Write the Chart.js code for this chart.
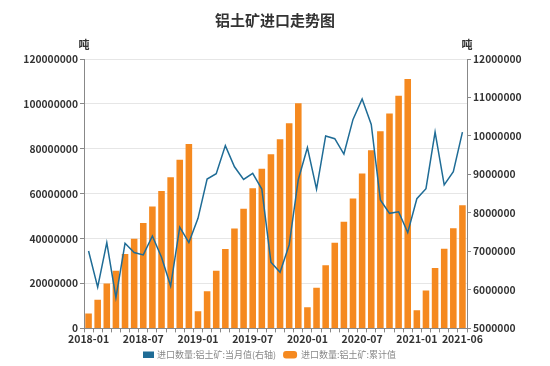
<!DOCTYPE html>
<html>
<head>
<meta charset="utf-8">
<script src="https://cdn.jsdelivr.net/npm/chart.js@4.4.1/dist/chart.umd.min.js"></script>
<style>
html,body{margin:0;padding:0;background:#fff;}
#wrap{width:550px;height:366px;position:relative;}
</style>
</head>
<body>
<div id="wrap"><canvas id="c" width="550" height="366"></canvas></div>
<script>
const categories = ["2018-01","2018-02","2018-03","2018-04","2018-05","2018-06","2018-07","2018-08","2018-09","2018-10","2018-11","2018-12",
"2019-01","2019-02","2019-03","2019-04","2019-05","2019-06","2019-07","2019-08","2019-09","2019-10","2019-11","2019-12",
"2020-01","2020-02","2020-03","2020-04","2020-05","2020-06","2020-07","2020-08","2020-09","2020-10","2020-11","2020-12",
"2021-01","2021-02","2021-03","2021-04","2021-05","2021-06"];

const monthly = [7010000,6070000,7230000,5800000,7210000,6970000,6910000,7400000,6850000,6100000,7630000,7230000,
7860000,8880000,9020000,9750000,9200000,8870000,9030000,8620000,6720000,6460000,7170000,8870000,
9700000,8620000,10000000,9930000,9530000,10430000,10960000,10300000,8340000,7990000,8030000,7490000,
8370000,8630000,10100000,8730000,9070000,10100000];

const cumulative = [6600000,12800000,20000000,25700000,33100000,39900000,46900000,54300000,61200000,67300000,75100000,82100000,
7600000,16600000,25700000,35400000,44500000,53300000,62400000,71100000,77600000,84200000,91400000,100300000,
9400000,18100000,28100000,38100000,47500000,57900000,69000000,79400000,87800000,95700000,103600000,111100000,
8100000,16900000,26900000,35500000,44600000,54800000];

const leftTicks = [0,20000000,40000000,60000000,80000000,100000000,120000000];
const rightTicks = [5000000,6000000,7000000,8000000,9000000,10000000,11000000,12000000];

const titleText = "铝土矿进口走势图";
const unitText = "吨";
const seriesNames = ["进口数量:铝土矿:当月值(右轴)","进口数量:铝土矿:累计值"];

const FONT = "'Noto Sans CJK SC','Noto Sans',sans-serif";

function roundRect(ctx,x,y,w,h,r){
  ctx.beginPath();
  ctx.moveTo(x+r,y); ctx.lineTo(x+w-r,y); ctx.quadraticCurveTo(x+w,y,x+w,y+r);
  ctx.lineTo(x+w,y+h-r); ctx.quadraticCurveTo(x+w,y+h,x+w-r,y+h);
  ctx.lineTo(x+r,y+h); ctx.quadraticCurveTo(x,y+h,x,y+h-r);
  ctx.lineTo(x,y+r); ctx.quadraticCurveTo(x,y,x+r,y); ctx.closePath();
}

const overlay = {
  id:'overlay',
  afterDraw(chart){
    const ctx = chart.ctx;
    ctx.save();
    ctx.fillStyle = '#333';
    ctx.textAlign = 'center';
    ctx.textBaseline = 'middle';
    ctx.font = "bold 15px " + FONT;
    ctx.fillText(titleText, 275, 20);
    ctx.font = "bold 11px " + FONT;
    const y = chart.scales.y, y1 = chart.scales.y1;
    ctx.fillText(unitText, y.right, 45);
    ctx.fillText(unitText, y1.left, 45);

    // legend
    const ds = chart.data.datasets;
    const ly = 354.5;
    ctx.font = "9px " + FONT;
    ctx.textAlign = 'left';
    let x = 143;
    ctx.fillStyle = ds[0].borderColor;
    ctx.fillRect(x, ly-3, 11, 6.5);
    x += 14;
    ctx.fillStyle = '#888';
    ctx.fillText(ds[0].label, x, ly);
    x += ctx.measureText(ds[0].label).width + 7;
    ctx.fillStyle = ds[1].backgroundColor;
    roundRect(ctx, x, ly-3.5, 14, 7.5, 3);
    ctx.fill();
    x += 18;
    ctx.fillStyle = '#888';
    ctx.fillText(ds[1].label, x, ly);
    ctx.restore();
  }
};

const plain = function(v){ return String(v); };

new Chart(document.getElementById('c'), {
  data: {
    labels: categories,
    datasets: [
      {
        type:'line', label: seriesNames[0], data: monthly, yAxisID:'y1',
        borderColor:'#1f6c96', backgroundColor:'#1f6c96', borderWidth:1.5,
        pointRadius:0, tension:0
      },
      {
        type:'bar', label: seriesNames[1], data: cumulative, yAxisID:'y',
        backgroundColor:'#f5891f', borderWidth:0,
        barPercentage:0.72, categoryPercentage:1.0
      }
    ]
  },
  options: {
    responsive:false, animation:false,
    layout:{padding:{top:59,left:0,right:0,bottom:21}},
    plugins:{
      title:{display:false},
      tooltip:{enabled:false},
      legend:{display:false}
    },
    scales:{
      x:{
        offset:true,
        grid:{display:true, drawOnChartArea:false, tickLength:4, color:'#888', tickColor:'#888'},
        border:{color:'#888'},
        ticks:{
          autoSkip:false, maxRotation:0, minRotation:0, padding:0,
          color:'#333', font:{family:FONT,size:10.5,weight:'bold'},
          callback:function(v,i){ return (i%6===0 || i===categories.length-1) ? categories[i] : ''; }
        }
      },
      y:{
        position:'left', min:0, max:120000000,
        afterBuildTicks:function(s){ s.ticks = leftTicks.map(v=>({value:v})); },
        afterFit:function(s){ s.width = 84; },
        grid:{color:'#e6e6e6', tickColor:'#888', tickLength:4},
        border:{color:'#888'},
        ticks:{color:'#333', padding:2, font:{family:FONT,size:10.3,weight:'bold'}, callback:plain}
      },
      y1:{
        position:'right', min:5000000, max:12000000,
        afterBuildTicks:function(s){ s.ticks = rightTicks.map(v=>({value:v})); },
        afterFit:function(s){ s.width = 83; },
        grid:{drawOnChartArea:false, color:'#888', tickLength:4},
        border:{color:'#888'},
        ticks:{color:'#333', padding:2, font:{family:FONT,size:10.3,weight:'bold'}, callback:plain}
      }
    }
  },
  plugins:[overlay]
});
</script>
</body>
</html>
